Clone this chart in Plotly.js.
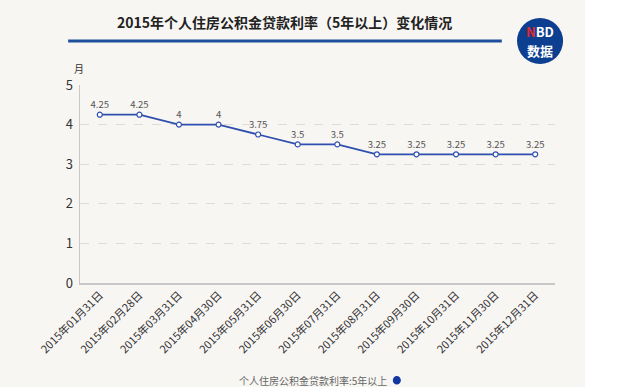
<!DOCTYPE html>
<html><head><meta charset="utf-8">
<script src="https://cdn.plot.ly/plotly-3.0.1.min.js"></script>
<style>html,body{margin:0;padding:0;background:#fff;}#chart{width:585px;height:387px;}</style>
</head><body><div id="chart"></div>
<script>
const categories = ["2015年01月31日","2015年02月28日","2015年03月31日","2015年04月30日","2015年05月31日","2015年06月30日","2015年07月31日","2015年08月31日","2015年09月30日","2015年10月31日","2015年11月30日","2015年12月31日"];
const rates = [4.25,4.25,4,4,3.75,3.5,3.5,3.25,3.25,3.25,3.25,3.25];
const seriesName = "个人住房公积金贷款利率:5年以上";
const titleText = "2015年个人住房公积金贷款利率（5年以上）变化情况";
const yUnit = "月";

const F = '"Noto Sans CJK SC", "Noto Sans", sans-serif';
const trace = {
  x: categories, y: rates, type: 'scatter', mode: 'lines+markers+text',
  text: rates.map(String), textposition: 'top center',
  textfont: {family: F, size: 9.5, color: '#555'},
  line: {color: '#2f4fae', width: 1.8},
  marker: {symbol: 'circle', size: 5, color: '#ffffff', line: {color: '#2f4fae', width: 1.2}},
  cliponaxis: false, showlegend: false, hoverinfo: 'skip'
};
const layout = {
  width: 585, height: 387,
  margin: {l: 80, r: 30, t: 85, b: 104},
  paper_bgcolor: '#f8f6f3', plot_bgcolor: '#f8f6f3',
  font: {family: F, color: '#333'},
  xaxis: {type: 'category', tickangle: -45, tickfont: {size: 11, color: '#333'},
    showgrid: false, showline: true, linecolor: '#c8c8c8', linewidth: 1.5, ticks: '', range: [-0.5, 11.5]},
  yaxis: {range: [0, 5], dtick: 1, tickfont: {size: 13, color: '#333'}, showline: true, linecolor: '#c8c8c8', linewidth: 1.5,
    gridcolor: '#dcdcdc', griddash: 'dash', gridwidth: 1, zeroline: false, ticks: '', ticklabelstandoff: 3},
  shapes: [
    {type: 'line', xref: 'paper', yref: 'paper', x0: -0.025, x1: 0.888, y0: 1.222, y1: 1.222, line: {color: '#1f4e9c', width: 3}},
    {type: 'circle', xref: 'paper', yref: 'paper', x0: 0.92, x1: 1.017, y0: 1.106, y1: 1.338, fillcolor: '#0d3f91', line: {width: 0}},
    {type: 'circle', xref: 'paper', yref: 'paper', x0: 0.6585, x1: 0.6755, y0: -0.513, y1: -0.47, fillcolor: '#1236a0', line: {width: 0}}
  ],
  annotations: [
    {text: '<b>' + titleText + '</b>', xref: 'paper', yref: 'paper', x: 0.43, y: 1.32, showarrow: false, xanchor: 'center', yanchor: 'middle', font: {size: 14, color: '#222'}},
    {text: yUnit, xref: 'paper', yref: 'paper', x: -0.003, y: 1.085, showarrow: false, xanchor: 'center', yanchor: 'middle', font: {size: 10, color: '#333'}},
    {text: '<b><span style="color:#e8262c">N</span>BD</b>', xref: 'paper', yref: 'paper', x: 0.968, y: 1.268, showarrow: false, xanchor: 'center', yanchor: 'middle', font: {size: 13, color: '#fff'}},
    {text: '<b>数据</b>', xref: 'paper', yref: 'paper', x: 0.968, y: 1.172, showarrow: false, xanchor: 'center', yanchor: 'middle', font: {size: 13, color: '#fff'}},
    {text: seriesName, xref: 'paper', yref: 'paper', x: 0.65, y: -0.492, showarrow: false, xanchor: 'right', yanchor: 'middle', font: {size: 10, color: '#666'}}
  ]
};
Plotly.newPlot('chart', [trace], layout, {displayModeBar: false, staticPlot: true});
</script></body></html>
